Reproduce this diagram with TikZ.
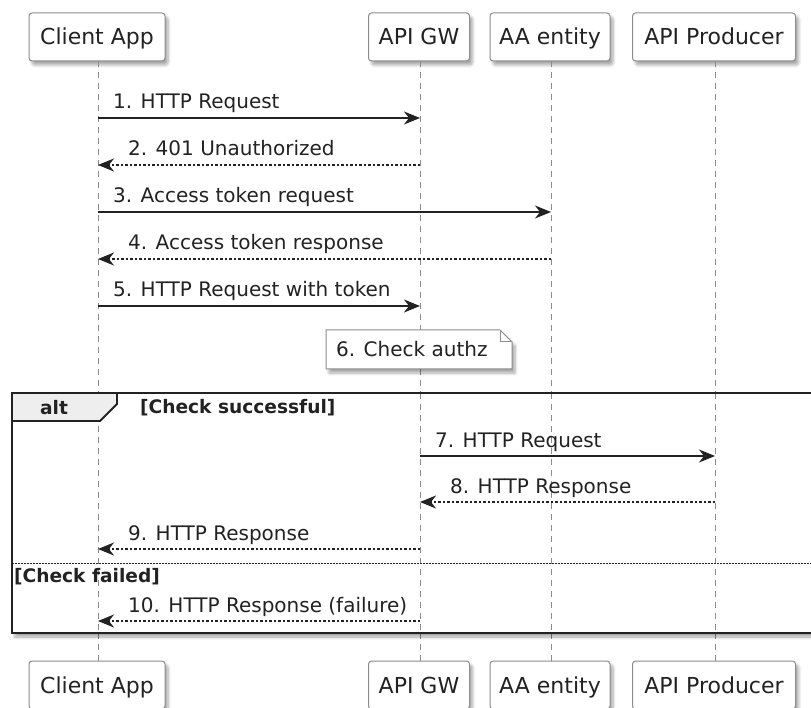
\documentclass[tikz,border=0pt]{standalone}
\usepackage{fontspec}
\setmainfont{DejaVu Sans}
\usetikzlibrary{arrows.meta,shadows.blur,calc}

\definecolor{boxline}{HTML}{8C8C8C}
\definecolor{lifecol}{HTML}{8C8C8C}
\definecolor{tabfill}{HTML}{EEEEEE}
\definecolor{ink}{HTML}{222222}

\newcommand{\lblfont}{\fontsize{20}{23}\selectfont}
\newcommand{\partfont}{\fontsize{22}{25}\selectfont}
\newcommand{\bldfont}{\fontsize{18.6}{21}\selectfont\bfseries}

\tikzset{
  softshadow/.style={blur shadow={shadow xshift=3pt, shadow yshift=-4pt,
      shadow blur steps=6, shadow blur radius=3pt, shadow opacity=35}},
  participant/.style={draw=boxline, fill=white, line width=1pt,
      rounded corners=3pt, minimum height=48pt, inner sep=0pt,
      text height=17pt, text depth=1pt,
      text=ink, font=\partfont, softshadow},
  life/.style={draw=lifecol, line width=0.9pt, dash pattern=on 6pt off 5pt},
  call/.style={draw=ink, line width=1.3pt,
      -{Stealth[length=16pt,width=13pt,inset=5pt]}},
  reply/.style={draw=ink, line width=1.2pt, dash pattern=on 2.5pt off 2pt,
      -{Stealth[length=16pt,width=13pt,inset=5pt]}},
  msglabel/.style={anchor=base west, inner sep=0pt, text=ink, font=\lblfont},
  guard/.style={anchor=base west, inner sep=0pt, text=ink, font=\bldfont},
  frameline/.style={draw=ink, line width=2.5pt},
}

\begin{document}
\begin{tikzpicture}[x=1pt, y=-1pt]
\useasboundingbox (0,0) rectangle (811,708);
\clip (0,0) rectangle (811,708);

% participants, top and bottom
\node[participant, minimum width=136pt] (ca-t) at (97,37)  {Client App};
\node[participant, minimum width=101pt] (gw-t) at (419,37) {API GW};
\node[participant, minimum width=120pt] (aa-t) at (550,37) {AA entity};
\node[participant, minimum width=163pt] (ap-t) at (714,37) {API Producer};

\node[participant, minimum width=136pt] (ca-b) at (97,685)  {Client App};
\node[participant, minimum width=101pt] (gw-b) at (419,685) {API GW};
\node[participant, minimum width=120pt] (aa-b) at (550,685) {AA entity};
\node[participant, minimum width=163pt] (ap-b) at (714,685) {API Producer};

% lifelines
\draw[life] (98,61) -- (98,661);
\draw[life] (420,61) -- (420,661);
\draw[life] (551,61) -- (551,661);
\draw[life] (715,61) -- (715,661);

% message anchor points on the lifelines
\foreach \n/\y in {1/118, 2/165, 3/212, 4/259, 5/306, 7/456, 8/502, 9/549, 10/621} {
  \coordinate (ca\n) at (98,\y);
  \coordinate (gw\n) at (420,\y);
  \coordinate (aa\n) at (551,\y);
  \coordinate (ap\n) at (715,\y);
}

% alt frame (drawn first so that messages sit on top)
\path[softshadow, fill=white] (12,393) rectangle (830,633);
\draw[life] (98,393) -- (98,633);
\draw[life] (420,393) -- (420,633);
\draw[life] (551,393) -- (551,633);
\draw[life] (715,393) -- (715,633);
\draw[frameline] (12,393) rectangle (830,633);
\draw[line width=1.8pt, draw=ink, fill=tabfill]
  (12,393) -- (117,393) -- (117,404) -- (100,421) -- (12,421) -- cycle;
\node[font=\bldfont, text=ink, inner sep=0pt, anchor=base] (alt) at (54,414) {alt};
\node[guard] (g1) at (140,413) {[Check successful]};
\draw[draw=ink, line width=1pt, dash pattern=on 1.5pt off 1.5pt] (12,563) -- (830,563);
\node[guard] (g2) at (14,582) {[Check failed]};

% messages
\draw[call]  (ca1) -- (gw1);
\node[msglabel] at (113,109) {1. HTTP Request};
\draw[reply] (gw2) -- (ca2);
\node[msglabel] at (128,156) {2. 401 Unauthorized};
\draw[call]  (ca3) -- (aa3);
\node[msglabel] at (113,203) {3. Access token request};
\draw[reply] (aa4) -- (ca4);
\node[msglabel] at (128,250) {4. Access token response};
\draw[call]  (ca5) -- (gw5);
\node[msglabel] at (113,297) {5. HTTP Request with token};

% note with folded corner
\path[softshadow, fill=white, draw=boxline, line width=1pt]
  (326,330) -- (500,330) -- (512,342) -- (512,369) -- (326,369) -- cycle;
\draw[draw=boxline, line width=1pt] (500,330) -- (500,342) -- (512,342);
\node[inner sep=0pt, text=ink, font=\lblfont, anchor=base west] (note) at (336,356) {6. Check authz};

\draw[call]  (gw7) -- (ap7);
\node[msglabel] at (435,447) {7. HTTP Request};
\draw[reply] (ap8) -- (gw8);
\node[msglabel] at (450,493) {8. HTTP Response};
\draw[reply] (gw9) -- (ca9);
\node[msglabel] at (128,540) {9. HTTP Response};
\draw[reply] (gw10) -- (ca10);
\node[msglabel] at (128,612) {10. HTTP Response (failure)};
\end{tikzpicture}
\end{document}
